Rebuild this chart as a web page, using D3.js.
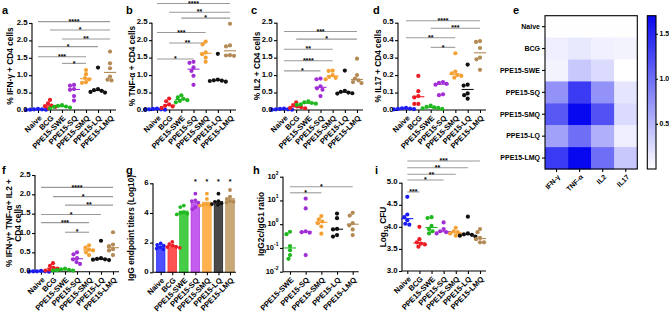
<!DOCTYPE html>
<html><head><meta charset="utf-8">
<script src="https://cdn.jsdelivr.net/npm/d3@7"></script>
<style>
body{margin:0;background:#fff;position:relative;width:669px;height:313px;overflow:hidden}
svg{display:block;position:absolute;left:0;top:0}
#ticklabels{position:absolute;left:0;top:0;width:669px;height:313px}
.tl{position:absolute;font-family:"Liberation Sans",Arial,sans-serif;font-weight:bold;color:#000;line-height:1;white-space:nowrap;text-align:right}
.tl sup{font-size:5px;vertical-align:4px;line-height:0}
</style>
</head><body>
<script>
// ---------- DATA ----------
const groups = ["Naive","BCG","PPE15-SWE","PPE15-SQ","PPE15-SMQ","PPE15-LQ","PPE15-LMQ"];
const groupColors = ["#1c1cf5","#ec1c24","#1fb81f","#a22ed6","#f5a033","#111111","#b38a55"];
const barColors = ["#4f4fff","#ff5252","#46cc46","#c45cf0","#ffb24f","#4a4a4a","#c9a878"];

const ifngValues = [
  [0.03,0.02,0.02,0.01,0.01,0.0],
  [0.29,0.19,0.13,0.11,0.09,0.05],
  [0.14,0.12,0.10,0.09,0.07,0.05],
  [0.72,0.70,0.60,0.58,0.40,0.27],
  [1.15,1.03,0.92,0.88,0.80,0.78],
  [1.22,0.60,0.57,0.55,0.52,0.50],
  [1.68,1.34,1.20,0.96,0.87,0.85]
];
const tnfValues = [
  [0.04,0.03,0.02,0.02,0.01,0.01],
  [0.33,0.25,0.16,0.12,0.10,0.06],
  [0.42,0.36,0.32,0.28,0.26,0.22],
  [1.38,1.35,1.22,1.12,0.98,0.72],
  [1.96,1.88,1.65,1.60,1.50,1.38],
  [1.61,0.87,0.85,0.84,0.83,0.81],
  [2.47,1.85,1.82,1.57,1.56,1.55]
];
const il2Values = [
  [0.04,0.03,0.02,0.02,0.01,0.01],
  [0.22,0.14,0.10,0.08,0.06,0.05],
  [0.25,0.22,0.20,0.18,0.16,0.15],
  [0.90,0.88,0.68,0.62,0.58,0.40],
  [1.13,1.12,1.00,0.95,0.92,0.88],
  [1.13,0.55,0.52,0.50,0.48,0.47],
  [1.47,1.00,0.90,0.85,0.80,0.77]
];
const il17Values = [
  [0.012,0.010,0.008,0.006,0.005,0.004],
  [0.195,0.108,0.080,0.072,0.035,0.035],
  [0.025,0.018,0.015,0.012,0.010,0.006],
  [0.160,0.155,0.150,0.145,0.090,0.085],
  [0.325,0.220,0.210,0.200,0.195,0.185],
  [0.260,0.145,0.140,0.095,0.085,0.065],
  [0.395,0.390,0.355,0.300,0.290,0.230]
];
const polyValues = [
  [0.02,0.01,0.01,0.01,0.0,0.0],
  [0.22,0.15,0.10,0.08,0.05,0.03],
  [0.08,0.06,0.05,0.04,0.03,0.03],
  [0.50,0.45,0.35,0.32,0.25,0.20],
  [0.68,0.62,0.57,0.55,0.50,0.43],
  [0.80,0.35,0.33,0.32,0.31,0.30],
  [1.02,0.70,0.66,0.58,0.55,0.43]
];
const iggValues = [
  [1.95,1.85,1.80,1.70,1.60,1.55],
  [2.05,1.90,1.80,1.72,1.70,1.65],
  [4.50,4.40,4.05,4.00,3.95,3.90],
  [5.30,4.85,4.80,4.70,4.40,4.25],
  [5.30,4.95,4.60,4.55,4.50,4.50],
  [5.30,4.80,4.75,4.65,4.60,4.55],
  [5.55,5.10,4.95,4.80,4.75,4.70]
];
const ratioGroups = ["PPE15-SWE","PPE15-SQ","PPE15-SMQ","PPE15-LQ","PPE15-LMQ"];
const ratioValues = [
  [0.38,0.48,0.12,0.08,0.035,0.05],
  [12,4.6,0.50,0.46,0.44,0.05],
  [2.2,1.6,1.3,1.1,0.8,0.4],
  [2.8,1.8,0.63,0.60,0.35,0.30],
  [3.0,2.3,1.1,0.9,0.6,0.35]
];
const cfuValues = [
  [4.68,4.28,4.22,4.15,4.07,4.05],
  [4.00,3.72,3.65,3.62,3.60,3.55],
  [4.22,4.20,4.02,3.95,3.90,3.85],
  [4.10,3.95,3.90,3.88,3.86,3.85],
  [3.98,3.90,3.88,3.85,3.82,3.80],
  [4.23,3.85,3.83,3.82,3.80,3.78],
  [3.95,3.88,3.75,3.72,3.65,3.65]
];
const heatCols = ["IFN-γ","TNF-α","IL2","IL17"];
const heatValues = [
  [0.01,0.01,0.01,0.01],
  [0.12,0.15,0.10,0.08],
  [0.08,0.38,0.25,0.00],
  [0.75,1.35,0.75,0.18],
  [1.15,1.70,1.20,0.25],
  [0.65,1.00,0.55,0.12],
  [1.35,1.70,1.00,0.38]
];
// significance brackets: [group i, group j, label, bracket height in data units]
const ifngSig = [[0,6,"****",2.54],[1,6,"*",2.30],[2,6,"**",2.04],[0,5,"*",1.82],[0,4,"***",1.53],[2,4,"*",1.34]];
const tnfSig  = [[0,6,"****",3.05],[1,6,"**",2.80],[2,6,"*",2.63],[0,4,"***",2.22],[1,4,"**",1.92],[0,3,"*",1.46]];
const il2Sig  = [[0,6,"***",2.25],[1,6,"*",2.03],[0,4,"**",1.74],[0,4,"****",1.41],[0,3,"*",1.12]];
const il17Sig = [[0,6,"****",0.511],[2,6,"***",0.468],[0,4,"**",0.414],[2,4,"*",0.359]];
const polySig = [[0,6,"****",2.18],[1,6,"*",1.94],[2,6,"**",1.72],[0,5,"*",1.48],[0,4,"***",1.27],[2,4,"*",1.02]];
const iggStars = [[3,"*",6.1],[4,"*",6.1],[5,"*",6.1],[6,"*",6.1]];
const ratioSig = [[0,4,"*",38],[0,2,"*",21]];
const cfuSig  = [[0,6,"***",5.49],[0,5,"**",5.34],[0,4,"**",5.19],[0,3,"*",5.06],[0,1,"***",4.79]];
const ticks25 = ["0.0","0.5","1.0","1.5","2.0","2.5"];
const ticks05 = ["0.0","0.1","0.2","0.3","0.4","0.5"];
const ticksIgg = ["0","2","4","6"];
const ticksRatio = ["-2","-1","0","1","2"];
const ticksCfu = ["3.0","3.5","4.0","4.5","5.0"];
const colorbarTicks = ["0.5","1.0","1.5"];

// ---------- DRAW ----------
const FONT = "Liberation Sans";
const svg = d3.select("body").append("svg").attr("width",669).attr("height",313);
const layer = svg.append("g");
const labelLayer = svg.append("g");
const html = d3.select("body").append("div").attr("id","ticklabels");

function T(parent,x,y,str,size){
  return parent.append("text").attr("x",x).attr("y",y).attr("font-family",FONT)
    .attr("font-weight","bold").attr("font-size",size).attr("fill","#000").text(str);
}
// HTML tick label, right-aligned at x, vertically centred at y
function H(x,y,str,size,exp){
  const d=html.append("div").attr("class","tl")
    .style("right",(669-x)+"px").style("top",(y-size*0.55)+"px").style("font-size",size+"px");
  if(exp!==undefined){ d.text(str); d.append("sup").text(exp); }
  else d.text(str);
}

function swarm(vals, y, r){
  const placed=[], out=[];
  const order = vals.map((v,i)=>i).sort((a,b)=>vals[b]-vals[a]);
  for(const i of order){
    const py=y(vals[i]);
    let best=null;
    for(let k=0;k<60 && best===null;k++){
      const cands = k===0?[0]:[-k*0.5,k*0.5];
      for(const c of cands){
        if(placed.every(p=>Math.hypot(p[0]-c,p[1]-py)>=2*r-0.3)){best=c;break;}
      }
    }
    if(best===null) best=0;
    placed.push([best,py]); out[i]=best;
  }
  return out;
}

function styleAxis(sel){
  sel.selectAll(".domain").attr("stroke","#000").attr("stroke-width",1.1).attr("fill","none");
  sel.selectAll(".tick line").attr("stroke","#000").attr("stroke-width",1.1);
  sel.selectAll(".tick text").remove();
}

function panelLabel(t,x,y){ T(layer,x,y,t,11); }

function yTitle(lines,x,cy){
  lines.forEach((t,i)=>{
    const tx = layer.append("text").attr("transform",`translate(${x+i*9},${cy}) rotate(-90)`)
      .attr("text-anchor","middle").attr("font-size",8.3).attr("font-family",FONT)
      .attr("font-weight","bold").attr("fill","#000");
    if(Array.isArray(t)){
      t.forEach(part=>{
        const ts=tx.append("tspan").text(part[0]);
        if(part[1]==="sub") ts.attr("font-size",5.5).attr("dy",2);
        if(part[1]==="after") ts.attr("dy",-2);
      });
    } else tx.text(t);
  });
}

function basePanel(o){
  const g = layer.append("g");
  const x = d3.scalePoint().domain(o.cats).range(o.xr);
  const y = (o.log?d3.scaleLog():d3.scaleLinear()).domain(o.yd).range(o.yr);
  const tv = o.ticks.map(t=>o.log?Math.pow(10,+t):+t);
  const yb = o.yr[0];
  const ya = g.append("g").attr("transform",`translate(${o.ax},0)`)
    .call(d3.axisLeft(y).tickValues(tv).tickSize(3).tickSizeOuter(0));
  ya.select(".domain").attr("d",`M0,${yb}V${o.yr[1]}`);
  styleAxis(ya);
  o.ticks.forEach((t,i)=>{
    if(o.log) H(o.ax-4.5,y(tv[i]),"10",7.5,t);
    else H(o.ax-4.5,y(tv[i]),t,7.8);
  });
  const xa = g.append("g").attr("transform",`translate(0,${yb})`)
    .call(d3.axisBottom(x).tickSize(3).tickSizeOuter(0));
  xa.select(".domain").attr("d",`M${o.ax},0H${o.xr[1]+6}`);
  styleAxis(xa);
  o.cats.forEach(c=>{
    T(g,0,0,c,7.6).attr("transform",`translate(${x(c)+2.5},${yb+7}) rotate(-45)`)
      .attr("text-anchor","end").attr("dy","0.3em");
  });
  return {g,x,y,yb};
}

function drawSig(p, o, sig){
  sig.forEach(s=>{
    const x1=p.x(o.cats[s[0]]), x2=p.x(o.cats[s[1]]), yy=p.y(s[3]);
    p.g.append("line").attr("x1",x1).attr("x2",x2).attr("y1",yy).attr("y2",yy)
      .attr("stroke","#9a9a9a").attr("stroke-width",1.1);
    T(p.g,(x1+x2)/2,yy+2.2,s[2],7).attr("text-anchor","middle");
  });
}

function drawPoints(p, o, values, colors, r, medians){
  values.forEach((vals,gi)=>{
    const cx=p.x(o.cats[gi]);
    const offs=swarm(vals,p.y,r);
    vals.forEach((v,k)=>{
      p.g.append("circle").attr("cx",cx+offs[k]).attr("cy",p.y(v)).attr("r",r).attr("fill",colors[gi]);
    });
    if(medians){
      const m=d3.median(vals);
      p.g.append("line").attr("x1",cx-6).attr("x2",cx+6).attr("y1",p.y(m)).attr("y2",p.y(m))
        .attr("stroke",colors[gi]).attr("stroke-width",1.1);
    }
  });
}

function scatterPanel(o){
  const p=basePanel(o);
  drawSig(p,o,o.sig);
  drawPoints(p,o,o.values,o.colors,2.1,true);
  return p;
}

// a
scatterPanel({cats:groups,xr:[38,110],ax:32,yd:[0,2.5],yr:[110,23],ticks:ticks25,values:ifngValues,colors:groupColors,sig:ifngSig});
yTitle(["% IFN-γ + CD4 cells"],13,66); panelLabel("a",2,14);
// b
scatterPanel({cats:groups,xr:[157,230],ax:152,yd:[0,2.5],yr:[110,22.7],ticks:ticks25,values:tnfValues,colors:groupColors,sig:tnfSig});
yTitle(["% TNF-α + CD4 cells"],135,66); panelLabel("b",126,14);
// c
scatterPanel({cats:groups,xr:[284,357],ax:277,yd:[0,2.5],yr:[110,22.7],ticks:ticks25,values:il2Values,colors:groupColors,sig:il2Sig});
yTitle(["% IL2 + CD4 cells"],260,66); panelLabel("c",251,14);
// d
scatterPanel({cats:groups,xr:[406,480],ax:398,yd:[0,0.5],yr:[110,22.7],ticks:ticks05,values:il17Values,colors:groupColors,sig:il17Sig});
yTitle(["% IL17 + CD4 cells"],381,66); panelLabel("d",373,14);
// f
scatterPanel({cats:groups,xr:[41,113],ax:35,yd:[0,2.5],yr:[271.7,175],ticks:ticks25,values:polyValues,colors:groupColors,sig:polySig});
yTitle(["% IFN-γ+ TNF-α+ IL2 +","CD4 cells"],12,223); panelLabel("f",2,174);

// g (bars)
(function(){
  const o={cats:groups,xr:[160.7,230],ax:153,yd:[0,6],yr:[272.3,183.3],ticks:ticksIgg};
  const p=basePanel(o);
  const bw=8.6;
  const bars=p.g.insert("g",":first-child");
  iggValues.forEach((vals,gi)=>{
    const cx=p.x(groups[gi]), m=d3.mean(vals);
    bars.append("rect").attr("x",cx-bw/2).attr("width",bw).attr("y",p.y(m)).attr("height",p.yb-p.y(m))
      .attr("fill",barColors[gi]).attr("stroke",groupColors[gi]).attr("stroke-width",0.6);
  });
  drawPoints(p,o,iggValues,groupColors,1.9,false);
  iggStars.forEach(s=>{
    T(p.g,p.x(groups[s[0]]),p.y(s[2])+2,s[1],7).attr("text-anchor","middle");
  });
  yTitle(["IgG endpoint titers (Log10)"],134,228); panelLabel("g",126,174);
})();

// h (log)
(function(){
  const o={cats:ratioGroups,xr:[290,352.7],ax:283,yd:[0.01,100],yr:[271.7,176.7],ticks:ticksRatio,log:true};
  const p=basePanel(o);
  drawSig(p,o,ratioSig);
  drawPoints(p,o,ratioValues,groupColors.slice(2),2.1,true);
  yTitle(["IgG2c/IgG1 ratio"],264,224); panelLabel("h",253,174);
})();

// i
scatterPanel({cats:groups,xr:[407.3,480],ax:402,yd:[3,5],yr:[271,182.7],ticks:ticksCfu,values:cfuValues,colors:groupColors,sig:cfuSig});
yTitle([[["Log"],["10","sub"],[" CFU","after"]]],386,227); panelLabel("i",375,174);

// e (heatmap)
(function(){
  const g=layer.append("g");
  const hx=d3.scaleBand().domain(heatCols).range([545,637.3]);
  const hy=d3.scaleBand().domain(groups).range([15.7,169]);
  const hc=d3.scaleLinear().domain([0,1.7]).range(["#ffffff","#0808f0"]).clamp(true);
  heatValues.forEach((row,ri)=>row.forEach((v,ci)=>{
    g.append("rect").attr("x",hx(heatCols[ci])).attr("y",hy(groups[ri]))
      .attr("width",hx.bandwidth()+0.4).attr("height",hy.bandwidth()+0.4).attr("fill",hc(v));
  }));
  g.append("rect").attr("x",545).attr("y",15.7).attr("width",92.3).attr("height",153.3)
    .attr("fill","none").attr("stroke","#000").attr("stroke-width",1.1);
  const ya=g.append("g").attr("transform","translate(545,0)").call(d3.axisLeft(hy).tickSize(3).tickSizeOuter(0));
  ya.select(".domain").remove();
  styleAxis(ya);
  groups.forEach(r=>{
    T(g,540,hy(r)+hy.bandwidth()/2,r,7).attr("dy","0.33em").attr("text-anchor","end");
  });
  const xa=g.append("g").attr("transform","translate(0,169)").call(d3.axisBottom(hx).tickSize(3).tickSizeOuter(0));
  xa.select(".domain").remove();
  styleAxis(xa);
  heatCols.forEach(c=>{
    T(g,0,0,c,7).attr("transform",`translate(${hx(c)+hx.bandwidth()/2+2.5},${176}) rotate(-45)`)
      .attr("text-anchor","end").attr("dy","0.3em");
  });
  // colorbar
  const defs=svg.append("defs");
  const lg=defs.append("linearGradient").attr("id","cb").attr("x1",0).attr("x2",0).attr("y1",1).attr("y2",0);
  d3.range(0,1.0001,0.1).forEach(t=>lg.append("stop").attr("offset",t).attr("stop-color",hc(t*1.7)));
  const cb=d3.scaleLinear().domain([0,1.7]).range([169,15.7]);
  const cbv=colorbarTicks.map(Number);
  g.append("rect").attr("x",647.3).attr("y",15.7).attr("width",8.7).attr("height",153.3)
    .attr("fill","url(#cb)").attr("stroke","#000").attr("stroke-width",1.1);
  const ca=g.append("g").attr("transform","translate(656,0)")
    .call(d3.axisRight(cb).tickValues(cbv).tickSize(2));
  ca.select(".domain").remove();
  styleAxis(ca);
  colorbarTicks.forEach((t,i)=>{
    T(labelLayer,659.5,cb(cbv[i]),t,7).attr("dy","0.33em");
  });
  panelLabel("e",513,14);
})();
</script>
</body></html>
